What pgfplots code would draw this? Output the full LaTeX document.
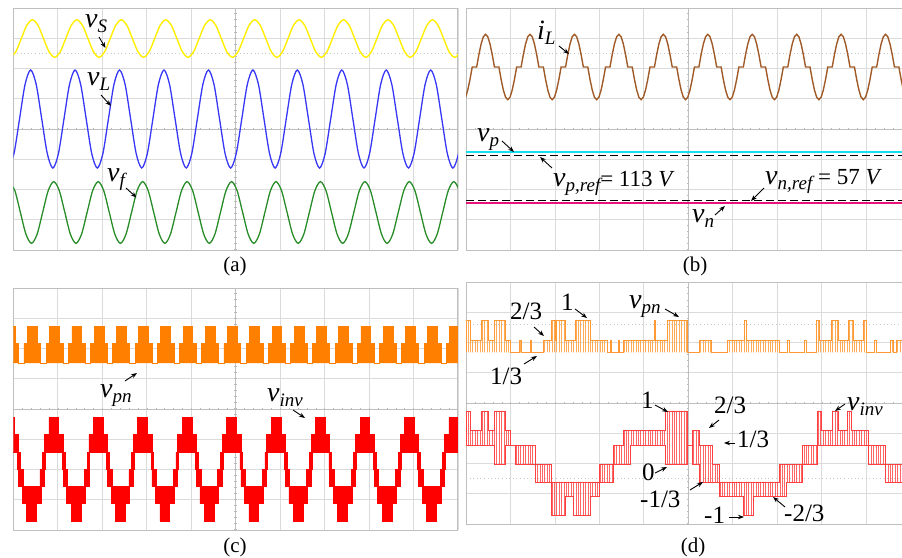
\documentclass[border=0pt]{standalone}
\usepackage{fontspec}
\setmainfont{Liberation Serif}
\usepackage{pgfplots}
\usepackage{pgfplotstable}
\pgfplotsset{compat=1.18}
\usetikzlibrary{arrows.meta,patterns.meta}

\definecolor{cYel}{RGB}{255,238,0}
\definecolor{cBlu}{RGB}{55,55,245}
\definecolor{cGrn}{RGB}{40,140,40}
\definecolor{cBrn}{RGB}{160,90,40}
\definecolor{cCyn}{RGB}{20,225,235}
\definecolor{cMag}{RGB}{230,20,120}
\definecolor{cOrg}{RGB}{255,128,0}
\definecolor{cRed}{RGB}{255,0,0}

% v with italic subscript, as on the scope captures
\newcommand{\lv}[2]{{\fontsize{28}{30}\selectfont\itshape #1}\raisebox{-5pt}{\fontsize{19}{20}\selectfont\itshape #2}}
\newcommand{\num}{\fontsize{25}{26}\selectfont}

% v_inv of (c): lower edge D and height H of the switching band (div)
\pgfplotstableread{
x D H
-0.20 -1.43 1.14
0.02 -1.43 0.58
0.10 -2.00 1.15
0.12 -2.57 1.14
0.16 -2.57 0.57
0.20 -3.13 1.13
0.22 -3.13 0.56
0.30 -3.70 1.13
0.52 -3.13 0.56
0.60 -3.13 1.13
0.62 -2.57 0.57
0.66 -2.57 1.14
0.70 -2.00 1.15
0.72 -1.43 0.58
0.80 -1.43 1.14
1.02 -1.43 0.58
1.10 -2.00 1.15
1.12 -2.57 1.14
1.16 -2.57 0.57
1.20 -3.13 1.13
1.22 -3.13 0.56
1.30 -3.70 1.13
1.52 -3.13 0.56
1.60 -3.13 1.13
1.62 -2.57 0.57
1.66 -2.57 1.14
1.70 -2.00 1.15
1.72 -1.43 0.58
1.80 -1.43 1.14
2.02 -1.43 0.58
2.10 -2.00 1.15
2.12 -2.57 1.14
2.16 -2.57 0.57
2.20 -3.13 1.13
2.22 -3.13 0.56
2.30 -3.70 1.13
2.52 -3.13 0.56
2.60 -3.13 1.13
2.62 -2.57 0.57
2.66 -2.57 1.14
2.70 -2.00 1.15
2.72 -1.43 0.58
2.80 -1.43 1.14
3.02 -1.43 0.58
3.10 -2.00 1.15
3.12 -2.57 1.14
3.16 -2.57 0.57
3.20 -3.13 1.13
3.22 -3.13 0.56
3.30 -3.70 1.13
3.52 -3.13 0.56
3.60 -3.13 1.13
3.62 -2.57 0.57
3.66 -2.57 1.14
3.70 -2.00 1.15
3.72 -1.43 0.58
3.80 -1.43 1.14
4.02 -1.43 0.58
4.10 -2.00 1.15
4.12 -2.57 1.14
4.16 -2.57 0.57
4.20 -3.13 1.13
4.22 -3.13 0.56
4.30 -3.70 1.13
4.52 -3.13 0.56
4.60 -3.13 1.13
4.62 -2.57 0.57
4.66 -2.57 1.14
4.70 -2.00 1.15
4.72 -1.43 0.58
4.80 -1.43 1.14
5.02 -1.43 0.58
5.10 -2.00 1.15
5.12 -2.57 1.14
5.16 -2.57 0.57
5.20 -3.13 1.13
5.22 -3.13 0.56
5.30 -3.70 1.13
5.52 -3.13 0.56
5.60 -3.13 1.13
5.62 -2.57 0.57
5.66 -2.57 1.14
5.70 -2.00 1.15
5.72 -1.43 0.58
5.80 -1.43 1.14
6.02 -1.43 0.58
6.10 -2.00 1.15
6.12 -2.57 1.14
6.16 -2.57 0.57
6.20 -3.13 1.13
6.22 -3.13 0.56
6.30 -3.70 1.13
6.52 -3.13 0.56
6.60 -3.13 1.13
6.62 -2.57 0.57
6.66 -2.57 1.14
6.70 -2.00 1.15
6.72 -1.43 0.58
6.80 -1.43 1.14
7.02 -1.43 0.58
7.10 -2.00 1.15
7.12 -2.57 1.14
7.16 -2.57 0.57
7.20 -3.13 1.13
7.22 -3.13 0.56
7.30 -3.70 1.13
7.52 -3.13 0.56
7.60 -3.13 1.13
7.62 -2.57 0.57
7.66 -2.57 1.14
7.70 -2.00 1.15
7.72 -1.43 0.58
7.80 -1.43 1.14
8.02 -1.43 0.58
8.10 -2.00 1.15
8.12 -2.57 1.14
8.16 -2.57 0.57
8.20 -3.13 1.13
8.22 -3.13 0.56
8.30 -3.70 1.13
8.52 -3.13 0.56
8.60 -3.13 1.13
8.62 -2.57 0.57
8.66 -2.57 1.14
8.70 -2.00 1.15
8.72 -1.43 0.58
8.80 -1.43 1.14
9.02 -1.43 0.58
9.10 -2.00 1.15
9.12 -2.57 1.14
9.16 -2.57 0.57
9.20 -3.13 1.13
9.22 -3.13 0.56
9.30 -3.70 1.13
9.52 -3.13 0.56
9.60 -3.13 1.13
9.62 -2.57 0.57
9.66 -2.57 1.14
9.70 -2.00 1.15
9.72 -1.43 0.58
9.80 -1.43 1.14
10.02 -1.43 0.58
10.10 -2.00 1.15
10.20 -2.00 1.15
}\vinvc

% v_pn of (c)
\pgfplotstableread{
x y
-0.30 1.52
-0.26 2.18
-0.18 2.73
0.04 2.18
0.12 1.52
0.24 2.18
0.32 2.73
0.54 2.18
0.62 1.52
0.74 2.18
0.82 2.73
1.04 2.18
1.12 1.52
1.24 2.18
1.32 2.73
1.54 2.18
1.62 1.52
1.74 2.18
1.82 2.73
2.04 2.18
2.12 1.52
2.24 2.18
2.32 2.73
2.54 2.18
2.62 1.52
2.74 2.18
2.82 2.73
3.04 2.18
3.12 1.52
3.24 2.18
3.32 2.73
3.54 2.18
3.62 1.52
3.74 2.18
3.82 2.73
4.04 2.18
4.12 1.52
4.24 2.18
4.32 2.73
4.54 2.18
4.62 1.52
4.74 2.18
4.82 2.73
5.04 2.18
5.12 1.52
5.24 2.18
5.32 2.73
5.54 2.18
5.62 1.52
5.74 2.18
5.82 2.73
6.04 2.18
6.12 1.52
6.24 2.18
6.32 2.73
6.54 2.18
6.62 1.52
6.74 2.18
6.82 2.73
7.04 2.18
7.12 1.52
7.24 2.18
7.32 2.73
7.54 2.18
7.62 1.52
7.74 2.18
7.82 2.73
8.04 2.18
8.12 1.52
8.24 2.18
8.32 2.73
8.54 2.18
8.62 1.52
8.74 2.18
8.82 2.73
9.04 2.18
9.12 1.52
9.24 2.18
9.32 2.73
9.54 2.18
9.62 1.52
9.74 2.18
9.82 2.73
10.04 2.18
10.12 1.52
10.30 1.52
}\vpnc

% v_pn of (d), levels 1/3, 2/3, 1
\pgfplotstableread{
x y
0 1.67
0 2.74
0.09 2.07
0.35 2.74
0.50 2.07
0.64 2.74
0.88 2.07
0.99 1.67
1.21 2.07
1.25 1.67
1.44 2.07
1.48 1.67
1.74 2.07
1.93 2.74
2.00 2.07
2.04 2.74
2.23 2.07
2.45 2.74
2.79 2.07
3.17 1.67
3.24 2.07
3.27 1.67
3.42 2.07
3.45 1.67
3.54 2.07
4.24 2.74
4.27 2.07
4.52 2.74
4.97 1.67
5.26 2.07
5.53 1.67
5.87 2.07
6.26 2.74
6.30 2.07
7.06 1.67
7.24 2.07
7.27 1.67
7.62 2.07
7.65 1.67
7.89 2.74
7.96 2.07
8.23 2.74
8.38 2.07
8.60 2.74
8.71 2.07
8.94 2.74
9.01 1.67
9.19 2.07
9.23 1.67
9.54 2.07
9.62 1.67
9.68 2.07
9.90 1.67
}\vpnd

% v_inv of (d): lower edge D and band height H, levels -1 ... 1
\pgfplotstableread{
x D H
0 -1.39 1.13
0.09 -1.39 0.48
0.35 -1.39 1.13
0.50 -1.39 0.48
0.63 -2.02 1.76
0.88 -1.39 0.48
0.99 -1.39 0
1.10 -2.02 0.63
1.55 -2.61 0.59
1.93 -3.70 1.09
2.23 -3.07 0.46
2.41 -3.70 1.09
2.79 -3.07 0.46
2.99 -2.61 0.59
3.31 -2.02 0.63
3.55 -2.02 1.11
3.70 -1.39 0.48
4.48 -2.02 1.76
4.98 -1.39 0
5.10 -2.02 1.11
5.26 -2.61 1.22
5.55 -2.61 0.59
5.71 -3.07 0.46
6.23 -3.70 1.09
6.47 -3.07 0.46
7.06 -3.07 1.05
7.20 -2.61 0.59
7.56 -2.02 0.63
7.90 -1.39 1.13
8.00 -1.39 0.48
8.24 -1.39 1.13
8.38 -1.39 0.48
8.58 -1.39 1.13
8.68 -1.39 0.48
9.06 -2.02 0.63
9.43 -2.61 0.59
9.90 -2.61 0.59
}\vinvd

\tikzset{ctick/.style={gray!55, line width=2.4pt}}
\pgfplotsset{
  osc/.style={
    scale only axis, anchor=south west,
    xmin=0, ymin=-4, ymax=4, height=242pt,
    xtick={0,...,10}, ytick={-4,...,4},
    xticklabels={}, yticklabels={}, major tick length=0pt,
    grid=major, major grid style={gray!28, line width=0.6pt},
    extra x ticks={5}, extra y ticks={0},
    extra x tick labels={}, extra y tick labels={},
    extra tick style={major grid style={gray!50, line width=0.7pt}},
    axis line style={gray!50, line width=0.7pt},
  },
  band/.style={
    scale only axis, anchor=south west, hide axis,
    xmin=0, ymin=-4, ymax=4, height=242pt,
    stack plots=y, const plot,
  },
}
\newcommand{\centerticks}{%
  \draw[ctick, dash pattern=on 0.6pt off 8.29pt] (axis cs:0,0) -- (axis cs:10,0);
  \draw[ctick, dash pattern=on 0.6pt off 5.45pt] (axis cs:5,-4) -- (axis cs:5,4);}

\begin{document}
\begin{tikzpicture}
\path[use as bounding box] (0,0) rectangle (902pt,557pt);

% ---------------- (a)
\begin{axis}[osc, at={(13.3pt,307pt)}, width=444.5pt, xmax=10]
\centerticks
\draw[gray!45, line width=0.6pt, dash pattern=on 0.6pt off 3pt] (axis cs:0,2.5) -- (axis cs:10,2.5);
\addplot[cYel, line width=1.4pt, smooth] coordinates {
(-0.07,2.37) (0.055,2.55) (0.18,2.99) (0.305,3.43) (0.43,3.61) (0.555,3.43) (0.68,2.99) (0.805,2.55)
(0.93,2.37) (1.055,2.55) (1.18,2.99) (1.305,3.43) (1.43,3.61) (1.555,3.43) (1.68,2.99) (1.805,2.55)
(1.93,2.37) (2.055,2.55) (2.18,2.99) (2.305,3.43) (2.43,3.61) (2.555,3.43) (2.68,2.99) (2.805,2.55)
(2.93,2.37) (3.055,2.55) (3.18,2.99) (3.305,3.43) (3.43,3.61) (3.555,3.43) (3.68,2.99) (3.805,2.55)
(3.93,2.37) (4.055,2.55) (4.18,2.99) (4.305,3.43) (4.43,3.61) (4.555,3.43) (4.68,2.99) (4.805,2.55)
(4.93,2.37) (5.055,2.55) (5.18,2.99) (5.305,3.43) (5.43,3.61) (5.555,3.43) (5.68,2.99) (5.805,2.55)
(5.93,2.37) (6.055,2.55) (6.18,2.99) (6.305,3.43) (6.43,3.61) (6.555,3.43) (6.68,2.99) (6.805,2.55)
(6.93,2.37) (7.055,2.55) (7.18,2.99) (7.305,3.43) (7.43,3.61) (7.555,3.43) (7.68,2.99) (7.805,2.55)
(7.93,2.37) (8.055,2.55) (8.18,2.99) (8.305,3.43) (8.43,3.61) (8.555,3.43) (8.68,2.99) (8.805,2.55)
(8.93,2.37) (9.055,2.55) (9.18,2.99) (9.305,3.43) (9.43,3.61) (9.555,3.43) (9.68,2.99) (9.805,2.55)
(9.93,2.37) (10.055,2.55) (10.18,2.99)};
\addplot[cBlu, line width=1.3pt, smooth] coordinates {
(-0.11,-1.29) (0.015,-0.815) (0.14,0.33) (0.265,1.475) (0.39,1.95) (0.515,1.475) (0.64,0.33) (0.765,-0.815)
(0.89,-1.29) (1.015,-0.815) (1.14,0.33) (1.265,1.475) (1.39,1.95) (1.515,1.475) (1.64,0.33) (1.765,-0.815)
(1.89,-1.29) (2.015,-0.815) (2.14,0.33) (2.265,1.475) (2.39,1.95) (2.515,1.475) (2.64,0.33) (2.765,-0.815)
(2.89,-1.29) (3.015,-0.815) (3.14,0.33) (3.265,1.475) (3.39,1.95) (3.515,1.475) (3.64,0.33) (3.765,-0.815)
(3.89,-1.29) (4.015,-0.815) (4.14,0.33) (4.265,1.475) (4.39,1.95) (4.515,1.475) (4.64,0.33) (4.765,-0.815)
(4.89,-1.29) (5.015,-0.815) (5.14,0.33) (5.265,1.475) (5.39,1.95) (5.515,1.475) (5.64,0.33) (5.765,-0.815)
(5.89,-1.29) (6.015,-0.815) (6.14,0.33) (6.265,1.475) (6.39,1.95) (6.515,1.475) (6.64,0.33) (6.765,-0.815)
(6.89,-1.29) (7.015,-0.815) (7.14,0.33) (7.265,1.475) (7.39,1.95) (7.515,1.475) (7.64,0.33) (7.765,-0.815)
(7.89,-1.29) (8.015,-0.815) (8.14,0.33) (8.265,1.475) (8.39,1.95) (8.515,1.475) (8.64,0.33) (8.765,-0.815)
(8.89,-1.29) (9.015,-0.815) (9.14,0.33) (9.265,1.475) (9.39,1.95) (9.515,1.475) (9.64,0.33) (9.765,-0.815)
(9.89,-1.29) (10.015,-0.815) (10.14,0.33)};
\addplot[cGrn, line width=1.3pt, smooth] coordinates {
(-0.09,-1.74) (0.035,-2.04) (0.16,-2.76) (0.285,-3.48) (0.41,-3.78) (0.535,-3.48) (0.66,-2.76) (0.785,-2.04)
(0.91,-1.74) (1.035,-2.04) (1.16,-2.76) (1.285,-3.48) (1.41,-3.78) (1.535,-3.48) (1.66,-2.76) (1.785,-2.04)
(1.91,-1.74) (2.035,-2.04) (2.16,-2.76) (2.285,-3.48) (2.41,-3.78) (2.535,-3.48) (2.66,-2.76) (2.785,-2.04)
(2.91,-1.74) (3.035,-2.04) (3.16,-2.76) (3.285,-3.48) (3.41,-3.78) (3.535,-3.48) (3.66,-2.76) (3.785,-2.04)
(3.91,-1.74) (4.035,-2.04) (4.16,-2.76) (4.285,-3.48) (4.41,-3.78) (4.535,-3.48) (4.66,-2.76) (4.785,-2.04)
(4.91,-1.74) (5.035,-2.04) (5.16,-2.76) (5.285,-3.48) (5.41,-3.78) (5.535,-3.48) (5.66,-2.76) (5.785,-2.04)
(5.91,-1.74) (6.035,-2.04) (6.16,-2.76) (6.285,-3.48) (6.41,-3.78) (6.535,-3.48) (6.66,-2.76) (6.785,-2.04)
(6.91,-1.74) (7.035,-2.04) (7.16,-2.76) (7.285,-3.48) (7.41,-3.78) (7.535,-3.48) (7.66,-2.76) (7.785,-2.04)
(7.91,-1.74) (8.035,-2.04) (8.16,-2.76) (8.285,-3.48) (8.41,-3.78) (8.535,-3.48) (8.66,-2.76) (8.785,-2.04)
(8.91,-1.74) (9.035,-2.04) (9.16,-2.76) (9.285,-3.48) (9.41,-3.78) (9.535,-3.48) (9.66,-2.76) (9.785,-2.04)
(9.91,-1.74) (10.035,-2.04) (10.16,-2.76)};
\end{axis}

% ---------------- (b)
\begin{axis}[osc, at={(466pt,307pt)}, width=436pt, xmax=9.81]
\centerticks
\draw[gray!45, line width=0.6pt, dash pattern=on 0.6pt off 3pt] (axis cs:0,2.5) -- (axis cs:10,2.5);
\addplot[cBrn, line width=1.4pt] coordinates {
(-0.06,0.97) (-0.01,1.05) (0.04,1.29) (0.09,1.64) (0.14,2.05) (0.24,2.05) (0.29,2.46) (0.34,2.81) (0.39,3.05) (0.44,3.13) (0.49,3.05) (0.54,2.81) (0.59,2.46) (0.64,2.05) (0.74,2.05) (0.79,1.64) (0.84,1.29) (0.89,1.05)
(0.94,0.97) (0.99,1.05) (1.04,1.29) (1.09,1.64) (1.14,2.05) (1.24,2.05) (1.29,2.46) (1.34,2.81) (1.39,3.05) (1.44,3.13) (1.49,3.05) (1.54,2.81) (1.59,2.46) (1.64,2.05) (1.74,2.05) (1.79,1.64) (1.84,1.29) (1.89,1.05)
(1.94,0.97) (1.99,1.05) (2.04,1.29) (2.09,1.64) (2.14,2.05) (2.24,2.05) (2.29,2.46) (2.34,2.81) (2.39,3.05) (2.44,3.13) (2.49,3.05) (2.54,2.81) (2.59,2.46) (2.64,2.05) (2.74,2.05) (2.79,1.64) (2.84,1.29) (2.89,1.05)
(2.94,0.97) (2.99,1.05) (3.04,1.29) (3.09,1.64) (3.14,2.05) (3.24,2.05) (3.29,2.46) (3.34,2.81) (3.39,3.05) (3.44,3.13) (3.49,3.05) (3.54,2.81) (3.59,2.46) (3.64,2.05) (3.74,2.05) (3.79,1.64) (3.84,1.29) (3.89,1.05)
(3.94,0.97) (3.99,1.05) (4.04,1.29) (4.09,1.64) (4.14,2.05) (4.24,2.05) (4.29,2.46) (4.34,2.81) (4.39,3.05) (4.44,3.13) (4.49,3.05) (4.54,2.81) (4.59,2.46) (4.64,2.05) (4.74,2.05) (4.79,1.64) (4.84,1.29) (4.89,1.05)
(4.94,0.97) (4.99,1.05) (5.04,1.29) (5.09,1.64) (5.14,2.05) (5.24,2.05) (5.29,2.46) (5.34,2.81) (5.39,3.05) (5.44,3.13) (5.49,3.05) (5.54,2.81) (5.59,2.46) (5.64,2.05) (5.74,2.05) (5.79,1.64) (5.84,1.29) (5.89,1.05)
(5.94,0.97) (5.99,1.05) (6.04,1.29) (6.09,1.64) (6.14,2.05) (6.24,2.05) (6.29,2.46) (6.34,2.81) (6.39,3.05) (6.44,3.13) (6.49,3.05) (6.54,2.81) (6.59,2.46) (6.64,2.05) (6.74,2.05) (6.79,1.64) (6.84,1.29) (6.89,1.05)
(6.94,0.97) (6.99,1.05) (7.04,1.29) (7.09,1.64) (7.14,2.05) (7.24,2.05) (7.29,2.46) (7.34,2.81) (7.39,3.05) (7.44,3.13) (7.49,3.05) (7.54,2.81) (7.59,2.46) (7.64,2.05) (7.74,2.05) (7.79,1.64) (7.84,1.29) (7.89,1.05)
(7.94,0.97) (7.99,1.05) (8.04,1.29) (8.09,1.64) (8.14,2.05) (8.24,2.05) (8.29,2.46) (8.34,2.81) (8.39,3.05) (8.44,3.13) (8.49,3.05) (8.54,2.81) (8.59,2.46) (8.64,2.05) (8.74,2.05) (8.79,1.64) (8.84,1.29) (8.89,1.05)
(8.94,0.97) (8.99,1.05) (9.04,1.29) (9.09,1.64) (9.14,2.05) (9.24,2.05) (9.29,2.46) (9.34,2.81) (9.39,3.05) (9.44,3.13) (9.49,3.05) (9.54,2.81) (9.59,2.46) (9.64,2.05) (9.74,2.05) (9.79,1.64) (9.84,1.29) (9.89,1.05)
(9.94,0.97) (9.99,1.05)};
\addplot[cCyn, line width=1.8pt] coordinates {(0,-0.77) (9.81,-0.77)};
\addplot[black, line width=1.2pt, dash pattern=on 8pt off 4pt] coordinates {(0,-0.88) (9.81,-0.88)};
\addplot[cMag, line width=1.8pt] coordinates {(0,-2.45) (9.81,-2.45)};
\addplot[black, line width=1.2pt, dash pattern=on 8pt off 4pt] coordinates {(0,-2.36) (9.81,-2.36)};
\end{axis}

% ---------------- (c)
\begin{axis}[osc, at={(13.3pt,27pt)}, width=444.5pt, xmax=10]
\centerticks
\addplot[const plot, draw=cOrg, fill=cOrg, line width=0.8pt] table {\vpnc};
\end{axis}
\begin{axis}[band, at={(13.3pt,27pt)}, width=444.5pt, xmax=10]
\addplot[draw=cRed, line width=0.6pt] table[x=x,y=D] {\vinvc};
\addplot[draw=cRed, fill=cRed, line width=0.6pt] table[x=x,y=H] {\vinvc} \closedcycle;
\end{axis}

% ---------------- (d)
\begin{axis}[osc, at={(466pt,33pt)}, width=436pt, xmax=9.81]
\centerticks
\draw[gray!45, line width=0.6pt, dash pattern=on 0.6pt off 3pt] (axis cs:0,2.6) -- (axis cs:10,2.6);
\draw[gray!45, line width=0.6pt, dash pattern=on 0.6pt off 3pt] (axis cs:0,-2.5) -- (axis cs:10,-2.5);
\addplot[const plot, draw=cOrg!80, line width=0.6pt,
  pattern={Lines[angle=90,distance=2.4pt,line width=0.7pt]}, pattern color=cOrg!65] table {\vpnd};
\end{axis}
\begin{axis}[band, at={(466pt,33pt)}, width=436pt, xmax=9.81]
\addplot[draw=cRed!75, line width=0.6pt] table[x=x,y=D] {\vinvd};
\addplot[draw=cRed!75, line width=0.6pt,
  pattern={Lines[angle=90,distance=2.4pt,line width=0.7pt]}, pattern color=cRed!60] table[x=x,y=H] {\vinvd} \closedcycle;
\end{axis}

% ---------------- labels (pixel frame, y down)
\begin{scope}[yshift=557pt, x=1pt, y=-1pt,
  arr/.style={-{Stealth[length=6pt,width=4.5pt]}, line width=0.9pt, black},
  lab/.style={anchor=base west, inner sep=0pt}]
% (a)
\node[lab] at (85,28) {\lv{v}{S}};
\draw[arr] (99,37) -- (105.5,48);
\node[lab] at (87,86) {\lv{v}{L}};
\draw[arr] (101,95) -- (111,106);
\node[lab] at (107,182) {\lv{v}{f}};
\draw[arr] (126,188) -- (136.5,197.5);
\node[anchor=center] at (235,266) {\fontsize{21}{22}\selectfont (a)};
% (b)
\node[lab] at (537,40) {\lv{i}{L}};
\draw[arr] (559,46) -- (569,54);
\node[lab] at (477,142) {\lv{v}{p}};
\draw[arr] (502,141) -- (514,152);
\node[lab] at (553,187) {\lv{v}{p,ref}{\fontsize{23}{24}\selectfont= 113 \textit{V}}};
\draw[arr] (552,168) -- (540,157);
\node[lab] at (765,185) {\lv{v}{n,ref}{\fontsize{23}{24}\selectfont\ = 57 \textit{V}}};
\draw[arr] (764,188) -- (751,201);
\node[lab] at (692,223) {\lv{v}{n}};
\draw[arr] (715,215) -- (725,206);
\node[anchor=center] at (695,266) {\fontsize{21}{22}\selectfont (b)};
% (c)
\node[lab] at (100,398) {\lv{v}{pn}};
\draw[arr] (125,381) -- (137,373);
\node[lab] at (267,402) {\lv{v}{inv}};
\draw[arr] (293,410) -- (305,418);
\node[anchor=center] at (235,547) {\fontsize{21}{22}\selectfont (c)};
% (d)
\node[lab] at (510,320) {\num 2/3};
\draw[arr] (534,327) -- (544,336);
\node[lab] at (561,311) {\num 1};
\draw[arr] (575,309) -- (587,318);
\node[lab] at (490,385) {\num 1/3};
\draw[arr] (524,364) -- (537,356);
\node[lab] at (629,309) {\lv{v}{pn}};
\draw[arr] (665,309) -- (679,317);
\node[lab] at (641,409) {\num 1};
\draw[arr] (655,405) -- (668,412);
\node[lab] at (714,414) {\num 2/3};
\draw[arr] (719,420) -- (709,428);
\node[lab] at (737,448) {\num 1/3};
\draw[arr] (735,443) -- (724,443);
\node[lab] at (642,480) {\num 0};
\draw[arr] (655,473) -- (667,467);
\node[lab] at (640,507) {\num -1/3};
\draw[arr] (690,490) -- (703,482);
\node[lab] at (704,523) {\num -1};
\draw[arr] (729,517) -- (744,517);
\node[lab] at (784,521) {\num -2/3};
\draw[arr] (785,507) -- (773,497);
\node[lab] at (847,411) {\lv{v}{inv}};
\draw[arr] (845,404) -- (835,411);
\node[anchor=center] at (693,547) {\fontsize{21}{22}\selectfont (d)};
\end{scope}
\end{tikzpicture}
\end{document}
